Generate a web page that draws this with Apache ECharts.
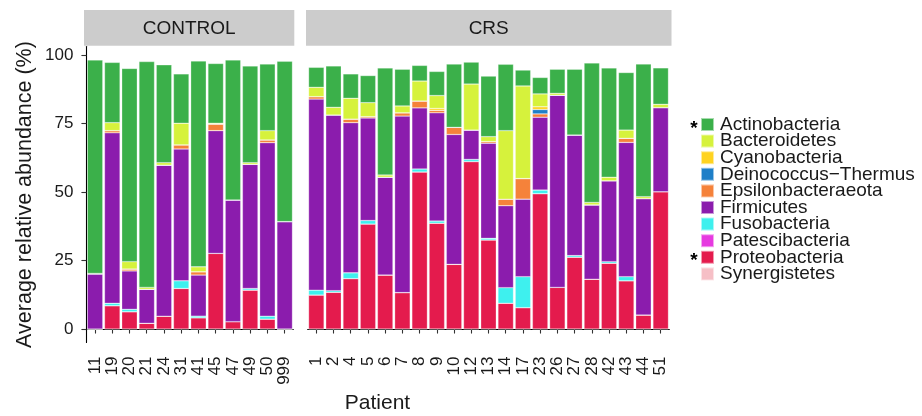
<!DOCTYPE html>
<html>
<head>
<meta charset="utf-8">
<script src="https://cdn.jsdelivr.net/npm/echarts@6/dist/echarts.min.js"></script>
<style>
html,body{margin:0;padding:0;background:#fff;}
#chart{width:922px;height:416px;}
</style>
</head>
<body>
<div id="chart"></div>
<script>
// ---- Data ----
const controlPatients = ['11','19','20','21','24','31','41','45','47','49','50','999'];
const crsPatients = ['1','2','4','5','6','7','8','9','10','12','13','14','17','23','26','27','28','42','43','44','51'];
const yTicks = [0, 25, 50, 75, 100];

const phyla = ['Actinobacteria','Bacteroidetes','Cyanobacteria','Deinococcus\u2212Thermus','Epsilonbacteraeota',
               'Firmicutes','Fusobacteria','Patescibacteria','Proteobacteria','Synergistetes'];
const phylaColors = ['#3bb04a','#d6f23c','#ffd320','#1f7fc8','#f5823a','#8b1cad','#3ef0ee','#e63ae0','#e41b4d','#f6bfc6'];
const starred = ['Actinobacteria','Proteobacteria'];

// values per phylum: CONTROL (12 patients) and CRS (21 patients)
const actinoControl = [77.9, 22.0, 70.5, 82.4, 35.7, 18.0, 75.1, 21.8, 51.1, 35.3, 24.3, 58.5];
const actinoCRS     = [7.3, 15.1, 8.9, 9.9, 39.1, 13.4, 5.7, 8.8, 23.1, 8.0, 22.1, 24.2, 5.8, 6.0, 8.8, 24.0, 50.9, 39.9, 21.0, 48.4, 13.3];
const bacterControl = [0, 2.9, 2.7, 0.7, 0.9, 7.9, 1.8, 0.3, 0, 0.6, 3.4, 0];
const bacterCRS     = [3.4, 2.8, 7.6, 5.1, 0.8, 2.5, 7.3, 4.7, 0, 16.8, 1.8, 25.0, 33.8, 4.7, 0.7, 0, 0.9, 1.3, 3.0, 0.7, 1.2];
const cyanoControl  = [0, 0, 0, 0, 0, 0, 0, 0, 0, 0, 0, 0];
const cyanoCRS      = [0, 0, 0, 0, 0, 0, 0, 0.7, 0, 0, 0, 0, 0, 1.0, 0, 0, 0, 0, 0, 0, 0];
const deinoControl  = [0, 0, 0, 0, 0, 0, 0, 0, 0, 0, 0, 0];
const deinoCRS      = [0, 0, 0, 0, 0, 0, 0, 0, 0, 0, 0, 0, 0, 1.6, 0, 0, 0, 0, 0, 0, 0];
const epsilonControl= [0.3, 0.8, 0.7, 0, 0, 1.5, 1.2, 2.4, 0, 0, 1.0, 0];
const epsilonCRS    = [0.9, 0, 1.3, 0.5, 0, 1.2, 2.5, 0.9, 2.6, 0, 0.6, 2.4, 7.5, 1.2, 0, 0, 0, 0, 1.5, 0, 0];
const firmControl   = [20.0, 62.2, 14.0, 12.4, 55.1, 48.1, 15.0, 44.8, 44.4, 45.3, 63.3, 39.2];
const firmCRS       = [69.7, 64.1, 54.8, 37.4, 35.7, 64.4, 22.3, 39.5, 47.4, 10.7, 34.7, 29.9, 28.3, 26.6, 70.1, 44.0, 27.1, 29.5, 49.0, 42.5, 30.7];
const fusoControl   = [0, 0.9, 0.9, 0, 0, 2.8, 0.6, 0, 0, 0.6, 1.1, 0];
const fusoCRS       = [1.8, 0.6, 2.1, 1.3, 0, 0, 1.1, 0.8, 0, 0.8, 0.6, 5.7, 11.3, 1.3, 0, 0.6, 0, 0.6, 1.5, 0, 0];
const patesControl  = [0, 0, 0, 0, 0, 0, 0, 0, 0, 0, 0, 0];
const patesCRS      = [0, 0, 0, 0, 0, 0, 0, 0, 0, 0, 0, 0, 0, 0, 0, 0, 0, 0, 0, 0, 0];
const proteoControl = [0, 8.5, 6.3, 2.1, 4.7, 14.8, 4.1, 27.6, 2.7, 14.2, 3.6, 0];
const proteoCRS     = [12.4, 13.4, 18.4, 38.3, 19.7, 13.3, 57.3, 38.6, 23.6, 61.1, 32.5, 9.4, 7.8, 49.4, 15.2, 26.2, 18.2, 24.0, 17.6, 5.1, 50.1];
const synerControl  = [0, 0, 0, 0, 0, 0, 0, 0, 0, 0, 0, 0];
const synerCRS      = [0, 0, 0, 0, 0, 0, 0, 0, 0, 0, 0, 0, 0, 0, 0, 0, 0, 0, 0, 0, 0];

const controlValues = [actinoControl, bacterControl, cyanoControl, deinoControl, epsilonControl,
                       firmControl, fusoControl, patesControl, proteoControl, synerControl];
const crsValues = [actinoCRS, bacterCRS, cyanoCRS, deinoCRS, epsilonCRS,
                   firmCRS, fusoCRS, patesCRS, proteoCRS, synerCRS];

// ---- Layout ----
const FONT = "'Liberation Sans', Arial, Helvetica, sans-serif";
const TXT = '#1a1a1a';
const yMin = -4.91, yMax = 103.1;
const grid1 = {left: 86.4, top: 46.5, width: 206.9, height: 296};
const grid2 = {left: 307.7, top: 46.5, width: 361.6, height: 296};

function xAxisFor(idx, cats) {
  return {
    type: 'category', gridIndex: idx, data: cats, boundaryGap: true,
    axisLine: {show: true, lineStyle: {color: '#000', width: 1.1}},
    axisTick: {show: true, alignWithLabel: true, length: 4.5, lineStyle: {color: '#333', width: 1.1}},
    axisLabel: {rotate: 90, margin: 14, fontSize: 17, color: TXT, fontFamily: FONT, interval: 0},
    splitLine: {show: false}
  };
}

const series = [];
// stack from bottom: reverse legend order
for (let k = phyla.length - 1; k >= 0; k--) {
  const common = {
    name: phyla[k], type: 'bar', barCategoryGap: '10%',
    itemStyle: {color: phylaColors[k], borderColor: 'rgba(255,255,255,0.55)', borderWidth: 0.5},
    emphasis: {disabled: true}
  };
  series.push(Object.assign({}, common, {xAxisIndex: 0, yAxisIndex: 0, stack: 'control', data: controlValues[k]}));
  series.push(Object.assign({}, common, {xAxisIndex: 1, yAxisIndex: 1, stack: 'crs', data: crsValues[k]}));
}

const legendTop = 115, legendRow = 16.6;
const graphics = [
  {type: 'rect', shape: {x: 84, y: 10, width: 210.3, height: 35.7}, style: {fill: '#cccccc'}},
  {type: 'rect', shape: {x: 306, y: 10, width: 365.5, height: 35.7}, style: {fill: '#cccccc'}},
  {type: 'text', x: 189.2, y: 28.5, style: {text: 'CONTROL', font: '19px ' + FONT, fill: TXT, align: 'center', verticalAlign: 'middle'}},
  {type: 'text', x: 488.7, y: 28.5, style: {text: 'CRS', font: '19px ' + FONT, fill: TXT, align: 'center', verticalAlign: 'middle'}},
  {type: 'text', x: 377.5, y: 403, style: {text: 'Patient', font: '21px ' + FONT, fill: TXT, align: 'center', verticalAlign: 'middle'}}
];
starred.forEach(function (nm) {
  const i = phyla.indexOf(nm);
  graphics.push({type: 'text', x: 694, y: legendTop + legendRow * (i + 0.5) + 5,
    style: {text: '*', font: 'bold 19px ' + FONT, fill: '#000', align: 'center', verticalAlign: 'middle'}});
});

const option = {
  animation: false,
  backgroundColor: '#fff',
  textStyle: {fontFamily: FONT},
  grid: [grid1, grid2],
  xAxis: [xAxisFor(0, controlPatients), xAxisFor(1, crsPatients)],
  yAxis: [
    {type: 'value', gridIndex: 0, min: yMin, max: yMax,
     name: 'Average relative abundance (%)', nameLocation: 'middle', nameGap: 50,
     nameTextStyle: {fontSize: 21.5, color: TXT, fontFamily: FONT},
     axisLine: {show: true, lineStyle: {color: '#000', width: 1.1}},
     axisTick: {show: true, length: 5, customValues: yTicks, lineStyle: {color: '#333', width: 1.1}},
     axisLabel: {customValues: yTicks, margin: 13, fontSize: 17, color: TXT, fontFamily: FONT},
     splitLine: {show: false}},
    {type: 'value', gridIndex: 1, min: yMin, max: yMax, show: true,
     axisLine: {show: false}, axisTick: {show: false}, axisLabel: {show: false}, splitLine: {show: false}}
  ],
  legend: {
    orient: 'vertical', left: 700, top: legendTop, itemGap: -2.4, padding: 0,
    itemWidth: 13, itemHeight: 13, icon: 'rect', selectedMode: false,
    data: phyla,
    textStyle: {fontSize: 19, color: TXT, fontFamily: FONT, padding: [0, 0, 0, 1]}
  },
  graphic: graphics,
  series: series
};

const chart = echarts.init(document.getElementById('chart'), null, {renderer: 'canvas'});
chart.setOption(option);
</script>
</body>
</html>
